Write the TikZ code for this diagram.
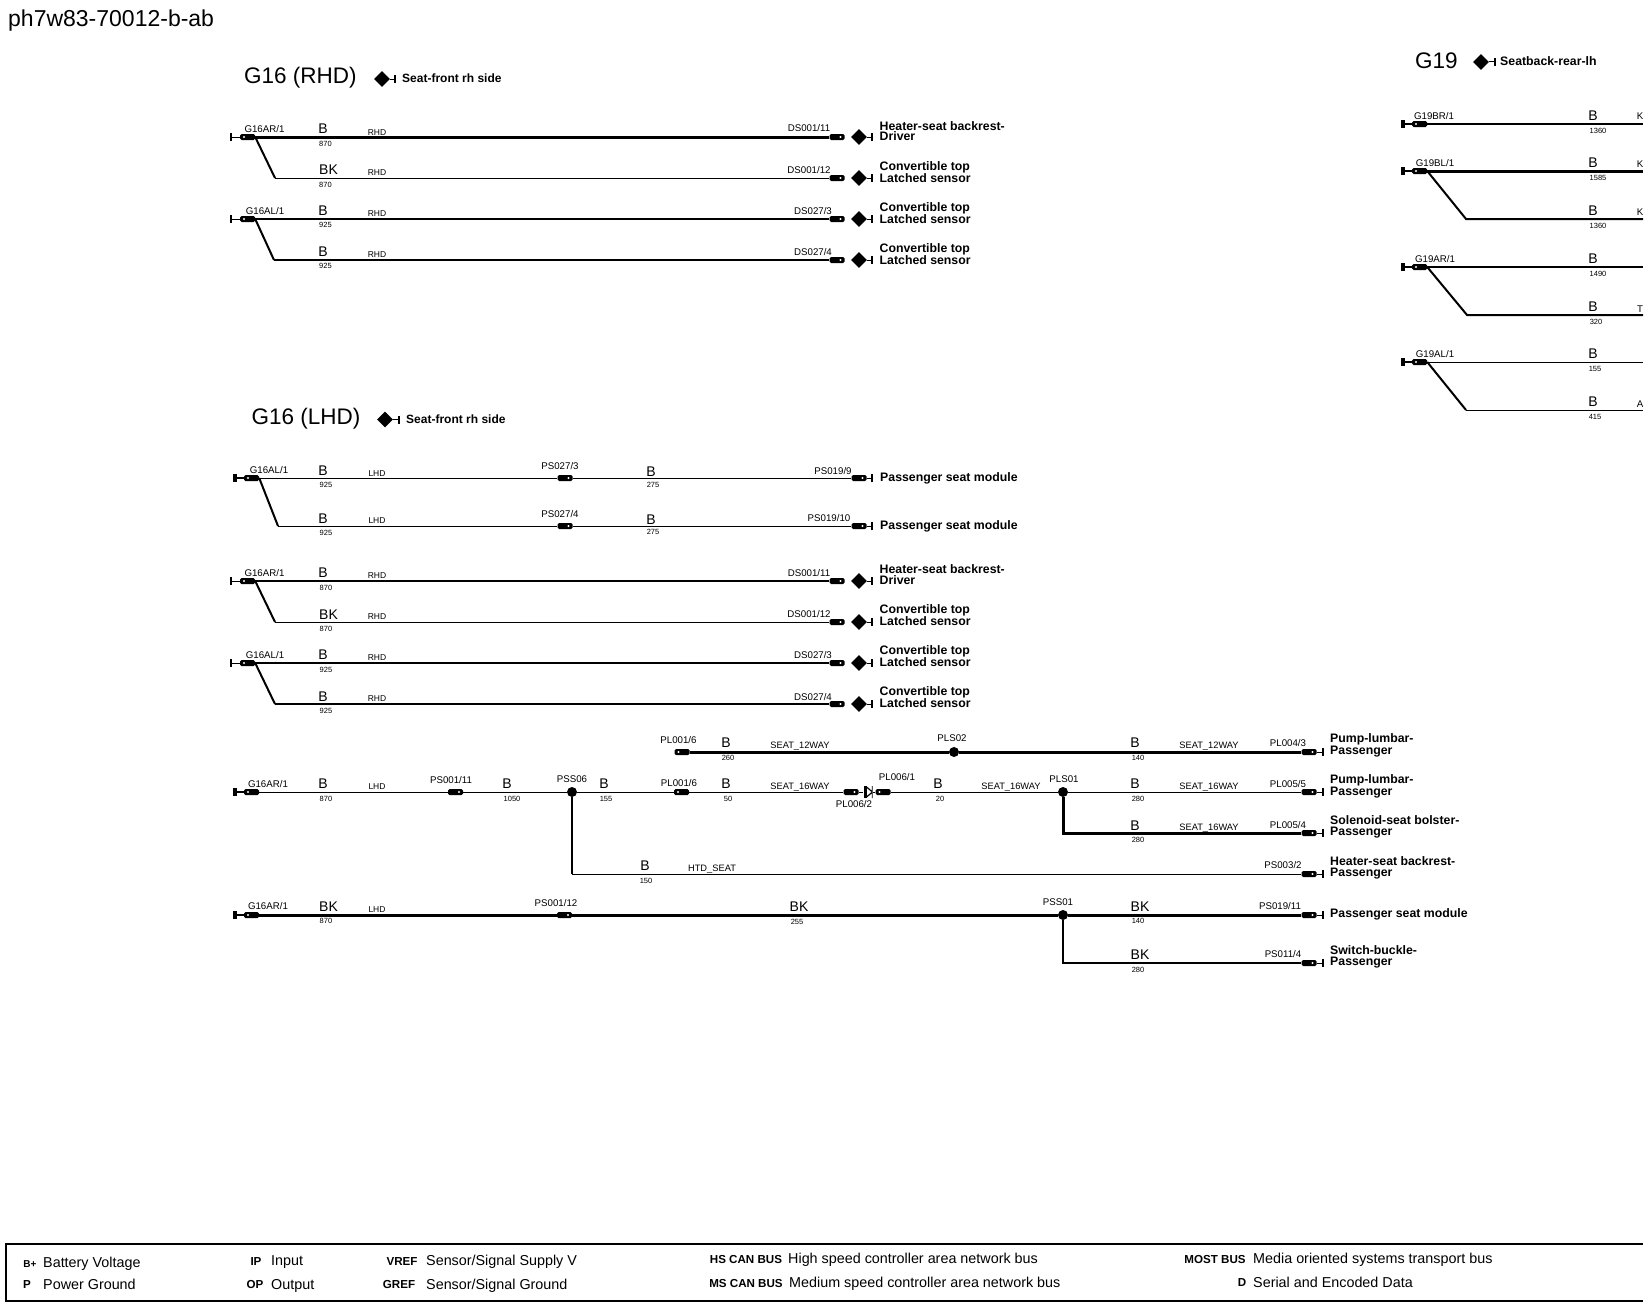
\documentclass[tikz,border=0pt]{standalone}
\usepackage{fontspec}
\setmainfont{Liberation Sans}
\usetikzlibrary{shapes.geometric}
\tikzset{wthin/.style={line width=1pt}}
\tikzset{wmid/.style={line width=2pt}}
\tikzset{wthick/.style={line width=3pt}}
\tikzset{plugl/.style={fill=black,rectangle,rounded corners=1.5pt,minimum width=15,minimum height=6,inner sep=0,path picture={\fill[white] ([xshift=4]path picture bounding box.west) circle (1.2);}}}
\tikzset{plugr/.style={fill=black,rectangle,rounded corners=1.5pt,minimum width=15,minimum height=6,inner sep=0,path picture={\fill[white] ([xshift=-4]path picture bounding box.east) circle (1.2);}}}
\tikzset{tick/.style={fill=black,rectangle,minimum width=1.5,minimum height=8,inner sep=0}}
\tikzset{tickb/.style={fill=black,rectangle,minimum width=3.5,minimum height=8,inner sep=0}}
\tikzset{dmd/.style={fill=black,diamond,minimum width=16,minimum height=16,inner sep=0}}
\tikzset{joint/.style={fill=black,circle,minimum size=10,inner sep=0}}
\tikzset{diode/.style={rectangle,minimum width=9,minimum height=12,inner sep=0,path picture={\fill[black] (path picture bounding box.north west) rectangle ++(3,12); \draw[line width=1.2pt] (path picture bounding box.east) -- ++(-6,5) (path picture bounding box.east) -- ++(-6,-5) (path picture bounding box.north east) -- (path picture bounding box.south east);}}}
\tikzset{pin/.style={inner sep=0,text height=7pt,text depth=0pt,font=\fontsize{9.7}{10}\selectfont}}
\tikzset{wlet/.style={inner sep=0,text height=10pt,text depth=0pt,font=\fontsize{14}{14}\selectfont}}
\tikzset{wlen/.style={inner sep=0,text height=5.4pt,text depth=0pt,font=\fontsize{7.5}{8}\selectfont}}
\tikzset{opt/.style={inner sep=0,text height=6.1pt,text depth=0pt,font=\fontsize{8.5}{9}\selectfont}}
\tikzset{net/.style={inner sep=0,text height=6.7pt,text depth=0pt,font=\fontsize{9.3}{10}\selectfont}}
\tikzset{desc/.style={anchor=west,inner sep=0,align=left,font=\bfseries\fontsize{12.3}{10.5}\selectfont}}
\tikzset{place/.style={anchor=west,inner sep=0,font=\bfseries\fontsize{12}{11}\selectfont}}
\tikzset{mainhead/.style={anchor=west,inner sep=0,text height=16.1pt,text depth=0pt,font=\fontsize{22.5}{24}\selectfont}}
\tikzset{lkey/.style={inner sep=0,text height=8.3pt,text depth=0pt,font=\bfseries\fontsize{11.6}{12}\selectfont}}
\tikzset{ltext/.style={anchor=west,inner sep=0,text height=10.3pt,text depth=0pt,font=\fontsize{14.35}{15}\selectfont}}
\begin{document}
\begin{tikzpicture}[x=1pt,y=-1pt]
    \useasboundingbox (0,0) rectangle (1648,1306);
    \node[mainhead,font=\fontsize{23}{24}\selectfont] (sheet) at (8,18.5) {ph7w83-70012-b-ab};

    % G16 (RHD)
    \node[mainhead] (ahead) at (244,75) {G16 (RHD)};
    \node[dmd] (adm) at (382,79) {};
    \node[tick] (ads) at (395,79) {};
    \node[place] (adx) at (402,78) {Seat-front rh side};
    \draw[wthin] (adm) -- (ads);

    \node[tick] (a1t) at (231,137) {};
    \node[plugl] (a1p) at (247.5,137) {};
    \node[pin] (a1l) at (264.5,129) {G16AR/1};
    \node[wlet] (a1b) at (323,128) {B};
    \node[wlen] (a1n) at (325.5,144) {870};
    \node[opt] (a1o) at (377,132) {RHD};
    \node[pin] (a1r) at (809,128) {DS001/11};
    \node[plugr] (a1e) at (837,137) {};
    \node[dmd] (a1d) at (859,137) {};
    \node[tick] (a1s) at (872,137) {};
    \node[desc] (a1x) at (879.5,131) {Heater-seat backrest-\\Driver};
    \draw[wthin] (a1t) -- (a1p);
    \draw[wthick] (a1p) -- (a1e);
    \draw[wthin] (a1d) -- (a1s);

    \coordinate (a2c) at (275,178);
    \node[wlet] (a2b) at (328.5,169) {BK};
    \node[wlen] (a2n) at (325.5,185) {870};
    \node[opt] (a2o) at (377,172) {RHD};
    \node[pin] (a2r) at (809,170) {DS001/12};
    \node[plugr] (a2e) at (837,178) {};
    \node[dmd] (a2d) at (859,178) {};
    \node[tick] (a2s) at (872,178) {};
    \node[desc] (a2x) at (879.5,172) {Convertible top\\Latched sensor};
    \draw[wmid] (a1p.east) -- (a2c);
    \draw[wthin] (a2c) -- (a2e);
    \draw[wthin] (a2d) -- (a2s);

    \node[tick] (a3t) at (231,219) {};
    \node[plugl] (a3p) at (247.5,219) {};
    \node[pin] (a3l) at (265,211) {G16AL/1};
    \node[wlet] (a3b) at (323,210) {B};
    \node[wlen] (a3n) at (325.5,225) {925};
    \node[opt] (a3o) at (377,213) {RHD};
    \node[pin] (a3r) at (813,211) {DS027/3};
    \node[plugr] (a3e) at (837,219) {};
    \node[dmd] (a3d) at (859,219) {};
    \node[tick] (a3s) at (872,219) {};
    \node[desc] (a3x) at (879.5,213) {Convertible top\\Latched sensor};
    \draw[wthin] (a3t) -- (a3p);
    \draw[wmid] (a3p) -- (a3e);
    \draw[wthin] (a3d) -- (a3s);

    \coordinate (a4c) at (274,260);
    \node[wlet] (a4b) at (323,251) {B};
    \node[wlen] (a4n) at (325.5,266) {925};
    \node[opt] (a4o) at (377,254) {RHD};
    \node[pin] (a4r) at (813,252) {DS027/4};
    \node[plugr] (a4e) at (837,260) {};
    \node[dmd] (a4d) at (859,260) {};
    \node[tick] (a4s) at (872,260) {};
    \node[desc] (a4x) at (879.5,254) {Convertible top\\Latched sensor};
    \draw[wmid] (a3p.east) -- (a4c);
    \draw[wmid] (a4c) -- (a4e);
    \draw[wthin] (a4d) -- (a4s);

    % G16 (LHD)
    \node[mainhead] (bhead) at (251.5,416) {G16 (LHD)};
    \node[dmd] (bdm) at (385,419.5) {};
    \node[tick] (bds) at (399,419.5) {};
    \node[place] (bdx) at (406,419) {Seat-front rh side};
    \draw[wthin] (bdm) -- (bds);

    \node[tickb] (b1t) at (235,478) {};
    \node[plugl] (b1p) at (251.5,478) {};
    \node[pin] (b1l) at (269,470) {G16AL/1};
    \node[wlet] (b1b) at (323,470) {B};
    \node[wlen] (b1n) at (326,485) {925};
    \node[opt] (b1o) at (377,473) {LHD};
    \node[pin] (b1m) at (560,466) {PS027/3};
    \node[plugr] (b1q) at (565,478) {};
    \node[wlet] (b1u) at (651,471) {B};
    \node[wlen] (b1v) at (653,485) {275};
    \node[pin] (b1r) at (833,471) {PS019/9};
    \node[plugr] (b1e) at (859,478) {};
    \node[tick] (b1s) at (872,478) {};
    \node[desc] (b1x) at (880,478) {Passenger seat module};
    \draw[wmid] (b1t) -- (b1p);
    \draw[wthin] (b1p) -- (b1q);
    \draw[wthin] (b1q) -- (b1e);
    \draw[wthin] (b1e) -- (b1s);

    \coordinate (b2c) at (278,526);
    \node[wlet] (b2b) at (323,518) {B};
    \node[wlen] (b2n) at (326,533) {925};
    \node[opt] (b2o) at (377,520) {LHD};
    \node[pin] (b2m) at (560,514) {PS027/4};
    \node[plugr] (b2q) at (565,526) {};
    \node[wlet] (b2u) at (651,519) {B};
    \node[wlen] (b2v) at (653,532) {275};
    \node[pin] (b2r) at (829,518) {PS019/10};
    \node[plugr] (b2e) at (859,526) {};
    \node[tick] (b2s) at (872,526) {};
    \node[desc] (b2x) at (880,526) {Passenger seat module};
    \draw[wmid] (b1p.east) -- (b2c);
    \draw[wthin] (b2c) -- (b2q);
    \draw[wthin] (b2q) -- (b2e);
    \draw[wthin] (b2e) -- (b2s);

    \node[tick] (c1t) at (231,581) {};
    \node[plugl] (c1p) at (247.5,581) {};
    \node[pin] (c1l) at (264.5,573) {G16AR/1};
    \node[wlet] (c1b) at (323,572) {B};
    \node[wlen] (c1n) at (326,588) {870};
    \node[opt] (c1o) at (377,575) {RHD};
    \node[pin] (c1r) at (809,573) {DS001/11};
    \node[plugr] (c1e) at (837,581) {};
    \node[dmd] (c1d) at (859,581) {};
    \node[tick] (c1s) at (872,581) {};
    \node[desc] (c1x) at (879.5,574.5) {Heater-seat backrest-\\Driver};
    \draw[wthin] (c1t) -- (c1p);
    \draw[wmid] (c1p) -- (c1e);
    \draw[wthin] (c1d) -- (c1s);

    \coordinate (c2c) at (275,622);
    \node[wlet] (c2b) at (328.5,614) {BK};
    \node[wlen] (c2n) at (326,629) {870};
    \node[opt] (c2o) at (377,616) {RHD};
    \node[pin] (c2r) at (809,614) {DS001/12};
    \node[plugr] (c2e) at (837,622) {};
    \node[dmd] (c2d) at (859,622) {};
    \node[tick] (c2s) at (872,622) {};
    \node[desc] (c2x) at (879.5,615) {Convertible top\\Latched sensor};
    \draw[wmid] (c1p.east) -- (c2c);
    \draw[wthin] (c2c) -- (c2e);
    \draw[wthin] (c2d) -- (c2s);

    \node[tick] (c3t) at (231,663) {};
    \node[plugl] (c3p) at (247.5,663) {};
    \node[pin] (c3l) at (265,655) {G16AL/1};
    \node[wlet] (c3b) at (323,654) {B};
    \node[wlen] (c3n) at (326,670) {925};
    \node[opt] (c3o) at (377,657) {RHD};
    \node[pin] (c3r) at (813,655) {DS027/3};
    \node[plugr] (c3e) at (837,663) {};
    \node[dmd] (c3d) at (859,663) {};
    \node[tick] (c3s) at (872,663) {};
    \node[desc] (c3x) at (879.5,656) {Convertible top\\Latched sensor};
    \draw[wthin] (c3t) -- (c3p);
    \draw[wmid] (c3p) -- (c3e);
    \draw[wthin] (c3d) -- (c3s);

    \coordinate (c4c) at (275,704);
    \node[wlet] (c4b) at (323,696) {B};
    \node[wlen] (c4n) at (326,711) {925};
    \node[opt] (c4o) at (377,698) {RHD};
    \node[pin] (c4r) at (813,697) {DS027/4};
    \node[plugr] (c4e) at (837,704) {};
    \node[dmd] (c4d) at (859,704) {};
    \node[tick] (c4s) at (872,704) {};
    \node[desc] (c4x) at (879.5,697) {Convertible top\\Latched sensor};
    \draw[wmid] (c3p.east) -- (c4c);
    \draw[wmid] (c4c) -- (c4e);
    \draw[wthin] (c4d) -- (c4s);

    % seat harness
    \node[plugl] (d1p) at (682,752) {};
    \node[pin] (d1l) at (678.5,740) {PL001/6};
    \node[wlet] (d1b) at (726,742) {B};
    \node[wlen] (d1n) at (728,758) {260};
    \node[net] (d1o) at (800,745.5) {SEAT\_12WAY};
    \node[joint] (plsb) at (954,752) {};
    \node[pin] (plsbl) at (952,738) {PLS02};
    \node[wlet] (d1u) at (1135,742) {B};
    \node[wlen] (d1v) at (1138,758) {140};
    \node[net] (d1w) at (1209,745.5) {SEAT\_12WAY};
    \node[pin] (d1r) at (1288,743) {PL004/3};
    \node[plugr] (d1e) at (1309,752) {};
    \node[tick] (d1s) at (1323,752) {};
    \node[desc] (d1x) at (1330,745) {Pump-lumbar-\\Passenger};
    \draw[wthick] (d1p) -- (plsb);
    \draw[wthick] (plsb) -- (d1e);
    \draw[wthin] (d1e) -- (d1s);

    \node[tickb] (d2t) at (235,792) {};
    \node[plugl] (d2p) at (251.5,792) {};
    \node[pin] (d2l) at (268,784) {G16AR/1};
    \node[wlet] (d2b) at (323,783) {B};
    \node[wlen] (d2n) at (326,799) {870};
    \node[opt] (d2o) at (377,786) {LHD};
    \node[pin] (d2m) at (451,780) {PS001/11};
    \node[plugr] (d2q) at (455.5,792) {};
    \node[wlet] (d2u) at (507,783) {B};
    \node[wlen] (d2v) at (512,799) {1050};
    \node[joint] (psf) at (572,792) {};
    \node[pin] (psfl) at (572,779) {PSS06};
    \node[wlet] (d2f) at (604,783) {B};
    \node[wlen] (d2g) at (606,799) {155};
    \node[pin] (d2h) at (679,783) {PL001/6};
    \node[plugl] (d2i) at (681.5,792) {};
    \node[wlet] (d2j) at (726,783) {B};
    \node[wlen] (d2k) at (728,799) {50};
    \node[net] (d2w) at (800,786) {SEAT\_16WAY};
    \node[plugr] (d2y) at (851,792) {};
    \node[pin] (d2z) at (854,804) {PL006/2};
    \node[diode] (dio) at (868,792) {};
    \node[plugl] (d3a) at (883,792) {};
    \node[pin] (d3b) at (897,777) {PL006/1};
    \node[wlet] (d3c) at (938,783) {B};
    \node[wlen] (d3d) at (940,799) {20};
    \node[net] (d3f) at (1011,786) {SEAT\_16WAY};
    \node[joint] (plsa) at (1063,792) {};
    \node[pin] (plsal) at (1064,779) {PLS01};
    \node[wlet] (d3g) at (1135,783) {B};
    \node[wlen] (d3h) at (1138,799) {280};
    \node[net] (d3i) at (1209,786) {SEAT\_16WAY};
    \node[pin] (d3r) at (1288,784) {PL005/5};
    \node[plugr] (d3e) at (1309,792) {};
    \node[tick] (d3s) at (1323,792) {};
    \node[desc] (d3x) at (1330,786) {Pump-lumbar-\\Passenger};
    \draw[wmid] (d2t) -- (d2p);
    \draw[wthin] (d2p) -- (d2q);
    \draw[wthin] (d2q) -- (psf);
    \draw[wthin] (psf) -- (d2i);
    \draw[wthin] (d2i) -- (d2y);
    \draw[wthin] (d2y) -- (dio);
    \draw[wthin] (dio) -- (d3a);
    \draw[wthin] (d3a) -- (plsa);
    \draw[wthin] (plsa) -- (d3e);
    \draw[wthin] (d3e) -- (d3s);

    \coordinate (d4c) at (1063,833);
    \node[wlet] (d4u) at (1135,825) {B};
    \node[wlen] (d4v) at (1138,840) {280};
    \node[net] (d4w) at (1209,827) {SEAT\_16WAY};
    \node[pin] (d4r) at (1288,825) {PL005/4};
    \node[plugr] (d4e) at (1309,833) {};
    \node[tick] (d4s) at (1323,833) {};
    \node[desc] (d4x) at (1330,827) {Solenoid-seat bolster-\\Passenger};
    \draw[wthick] (plsa) -- (d4c) -- (d4e);
    \draw[wthin] (d4e) -- (d4s);

    \coordinate (d5c) at (572,874);
    \node[wlet] (d5u) at (645,865) {B};
    \node[wlen] (d5v) at (646,881) {150};
    \node[net] (d5w) at (712,868) {HTD\_SEAT};
    \node[pin] (d5r) at (1283,865) {PS003/2};
    \node[plugr] (d5e) at (1309,874) {};
    \node[tick] (d5s) at (1323,874) {};
    \node[desc] (d5x) at (1330,868) {Heater-seat backrest-\\Passenger};
    \draw[wmid] (psf) -- (d5c);
    \draw[wthin] (d5c) -- (d5e);
    \draw[wthin] (d5e) -- (d5s);

    \node[tickb] (d6t) at (235,915) {};
    \node[plugl] (d6p) at (251.5,915) {};
    \node[pin] (d6l) at (268,906) {G16AR/1};
    \node[wlet] (d6b) at (328.5,906) {BK};
    \node[wlen] (d6n) at (326,921) {870};
    \node[opt] (d6o) at (377,909) {LHD};
    \node[pin] (d6m) at (556,903) {PS001/12};
    \node[plugr] (d6q) at (564.5,915) {};
    \node[wlet] (d6u) at (799,906) {BK};
    \node[wlen] (d6v) at (797,922) {255};
    \node[joint] (psa) at (1063,915) {};
    \node[pin] (psal) at (1058,902) {PSS01};
    \node[wlet] (d6f) at (1140,906) {BK};
    \node[wlen] (d6g) at (1138,921) {140};
    \node[pin] (d6r) at (1280,906) {PS019/11};
    \node[plugr] (d6e) at (1309,915) {};
    \node[tick] (d6s) at (1323,915) {};
    \node[desc] (d6x) at (1330,914) {Passenger seat module};
    \draw[wmid] (d6t) -- (d6p);
    \draw[wthick] (d6p) -- (d6q);
    \draw[wthick] (d6q) -- (psa);
    \draw[wthick] (psa) -- (d6e);
    \draw[wthin] (d6e) -- (d6s);

    \coordinate (d7c) at (1063,963);
    \node[wlet] (d7u) at (1140,954) {BK};
    \node[wlen] (d7v) at (1138,970) {280};
    \node[pin] (d7r) at (1283,954) {PS011/4};
    \node[plugr] (d7e) at (1309,963) {};
    \node[tick] (d7s) at (1323,963) {};
    \node[desc] (d7x) at (1330,957) {Switch-buckle-\\Passenger};
    \draw[wmid] (psa) -- (d7c) -- (d7e);
    \draw[wthin] (d7e) -- (d7s);

    % G19
    \node[mainhead] (ghead) at (1415,60) {G19};
    \node[dmd] (gdm) at (1481,62) {};
    \node[tick] (gds) at (1495,62) {};
    \node[desc] (gdx) at (1500,61) {Seatback-rear-lh};
    \draw[wthin] (gdm) -- (gds);

    \node[tickb] (g1t) at (1403,124) {};
    \node[plugl] (g1p) at (1419.5,124) {};
    \node[pin] (g1l) at (1434,116) {G19BR/1};
    \node[wlet] (g1b) at (1593,115.5) {B};
    \node[wlen] (g1n) at (1598,130.5) {1360};
    \node[pin] (g1k) at (1640,116) {K};
    \coordinate (g1z) at (1643,124);
    \draw[wmid] (g1t) -- (g1p);
    \draw[wmid] (g1p) -- (g1z);

    \node[tickb] (g2t) at (1403,171) {};
    \node[plugl] (g2p) at (1419.5,171) {};
    \node[pin] (g2l) at (1435,163) {G19BL/1};
    \node[wlet] (g2b) at (1593,162.5) {B};
    \node[wlen] (g2n) at (1598,177.5) {1585};
    \node[pin] (g2k) at (1640,164) {K};
    \coordinate (g2z) at (1643,171);
    \draw[wmid] (g2t) -- (g2p);
    \draw[wthick] (g2p) -- (g2z);

    \coordinate (g3c) at (1466,219);
    \node[wlet] (g3b) at (1593,210.5) {B};
    \node[wlen] (g3n) at (1598,225.5) {1360};
    \node[pin] (g3k) at (1640,212) {K};
    \coordinate (g3z) at (1643,219);
    \draw[wmid] (g2p.east) -- (g3c) -- (g3z);

    \node[tickb] (g4t) at (1403,267) {};
    \node[plugl] (g4p) at (1419.5,267) {};
    \node[pin] (g4l) at (1435,259) {G19AR/1};
    \node[wlet] (g4b) at (1593,258.5) {B};
    \node[wlen] (g4n) at (1598,273.5) {1490};
    \coordinate (g4z) at (1643,267);
    \draw[wmid] (g4t) -- (g4p);
    \draw[wmid] (g4p) -- (g4z);

    \coordinate (g5c) at (1467,315);
    \node[wlet] (g5b) at (1593,306.5) {B};
    \node[wlen] (g5n) at (1596,321.5) {320};
    \node[pin] (g5k) at (1640,309) {T};
    \coordinate (g5z) at (1643,315);
    \draw[wmid] (g4p.east) -- (g5c) -- (g5z);

    \node[tickb] (g6t) at (1403,362) {};
    \node[plugl] (g6p) at (1419.5,362) {};
    \node[pin] (g6l) at (1435,354) {G19AL/1};
    \node[wlet] (g6b) at (1593,353.5) {B};
    \node[wlen] (g6n) at (1595,368.5) {155};
    \coordinate (g6z) at (1643,362);
    \draw[wmid] (g6t) -- (g6p);
    \draw[wthin] (g6p) -- (g6z);

    \coordinate (g7c) at (1466,410);
    \node[wlet] (g7b) at (1593,401.5) {B};
    \node[wlen] (g7n) at (1595,416.5) {415};
    \node[pin] (g7k) at (1640,404) {A};
    \coordinate (g7z) at (1643,410);
    \draw[wmid] (g6p.east) -- (g7c);
    \draw[wthin] (g7c) -- (g7z);

    % key
    \coordinate (keytr) at (1643,1244);
    \coordinate (keytl) at (6,1244);
    \coordinate (keybl) at (6,1301);
    \coordinate (keybr) at (1643,1301);
    \draw[wmid] (keytr) -- (keytl) -- (keybl) -- (keybr);
    \node[lkey,font=\bfseries\fontsize{10}{10}\selectfont] (kb) at (30,1263) {B+};
    \node[ltext] (kbt) at (43,1262.5) {Battery Voltage};
    \node[lkey] (kp) at (27,1284) {P};
    \node[ltext] (kpt) at (43,1284.5) {Power Ground};
    \node[lkey] (kip) at (256,1261) {IP};
    \node[ltext] (kipt) at (271,1260.5) {Input};
    \node[lkey] (kop) at (255,1284) {OP};
    \node[ltext] (kopt) at (271,1284.5) {Output};
    \node[lkey] (kv) at (402,1261) {VREF};
    \node[ltext] (kvt) at (426,1260.5) {Sensor/Signal Supply V};
    \node[lkey] (kg) at (399,1284) {GREF};
    \node[ltext] (kgt) at (426,1284.5) {Sensor/Signal Ground};
    \node[lkey] (khs) at (746,1259) {HS CAN BUS};
    \node[ltext] (khst) at (788,1258.5) {High speed controller area network bus};
    \node[lkey] (kms) at (746,1283) {MS CAN BUS};
    \node[ltext] (kmst) at (789,1282.5) {Medium speed controller area network bus};
    \node[lkey] (kmo) at (1215,1259) {MOST BUS};
    \node[ltext] (kmot) at (1253,1258.5) {Media oriented systems transport bus};
    \node[lkey] (kd) at (1242,1282) {D};
    \node[ltext] (kdt) at (1253,1282.5) {Serial and Encoded Data};
\end{tikzpicture}
\end{document}
